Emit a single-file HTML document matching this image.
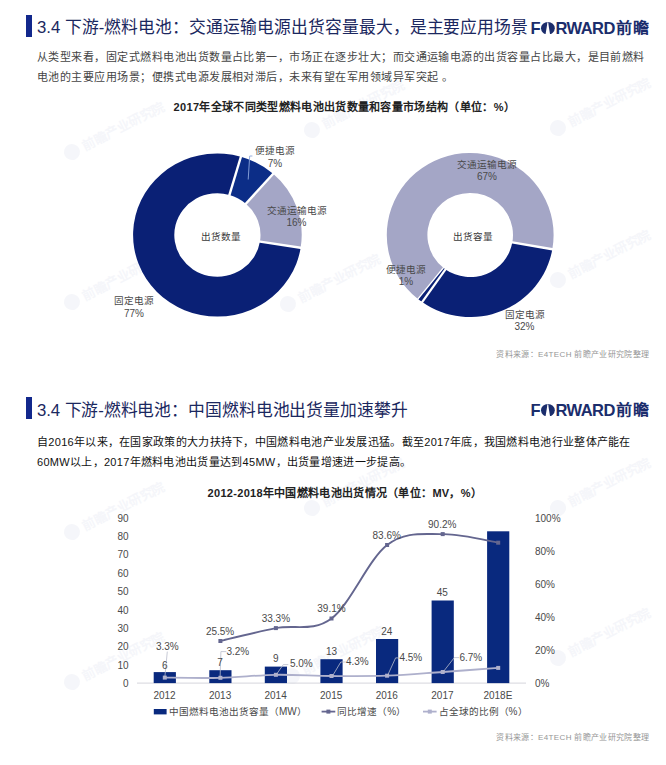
<!DOCTYPE html>
<html lang="zh-CN">
<head>
<meta charset="utf-8">
<title>3.4 下游-燃料电池</title>
<style>
html,body{margin:0;padding:0;background:#fff;}
body{width:666px;height:765px;position:relative;overflow:hidden;font-family:"Liberation Sans",sans-serif;color:#333;}
.abs{position:absolute;white-space:nowrap;}
.vbar{position:absolute;left:26.3px;width:5.8px;background:#12288c;}
.h1{position:absolute;left:37px;font-size:16.8px;line-height:22px;color:#1b2860;white-space:nowrap;letter-spacing:0;}
.logo{position:absolute;left:530.6px;font-size:16.5px;line-height:20px;font-weight:bold;color:#1b2d6c;white-space:nowrap;letter-spacing:-0.55px;}
.logo .o{display:inline-block;width:13.8px;height:12.6px;vertical-align:-0.3px;margin:0 0.6px 0 1.0px;position:relative;}
.logo .o svg{position:absolute;left:0;top:0;}
.logo .cn{position:absolute;left:85.6px;top:0;font-size:14.6px;letter-spacing:0;display:inline-block;transform:scaleX(1.1);transform-origin:0 50%;}
.p1{position:absolute;left:37px;font-size:11px;line-height:20px;color:#444;white-space:nowrap;letter-spacing:0.47px;}
.p2{position:absolute;left:37px;font-size:11px;line-height:20px;color:#111;white-space:nowrap;letter-spacing:0.3px;}
.ct{position:absolute;font-size:11px;line-height:14px;font-weight:bold;color:#222;white-space:nowrap;text-align:left;letter-spacing:0.15px;}
.src{position:absolute;right:16.5px;font-size:8px;line-height:12px;color:#969696;white-space:nowrap;letter-spacing:0.35px;}
svg{position:absolute;left:0;top:0;}
svg text{font-family:"Liberation Sans",sans-serif;}
</style>
</head>
<body>

<svg width="666" height="765" viewBox="0 0 666 765">
  <g id="wm" fill="#f5f6fa" font-size="13" font-weight="bold">
  <g transform="translate(72 152) rotate(-27)"><circle cx="0" cy="0" r="8"/><text x="12" y="5">前瞻产业研究院</text></g>
  <g transform="translate(312 130) rotate(-27)"><circle cx="0" cy="0" r="8"/><text x="12" y="5">前瞻产业研究院</text></g>
  <g transform="translate(558 128) rotate(-27)"><circle cx="0" cy="0" r="8"/><text x="12" y="5">前瞻产业研究院</text></g>
  <g transform="translate(72 302) rotate(-27)"><circle cx="0" cy="0" r="8"/><text x="12" y="5">前瞻产业研究院</text></g>
  <g transform="translate(288 304) rotate(-27)"><circle cx="0" cy="0" r="8"/><text x="12" y="5">前瞻产业研究院</text></g>
  <g transform="translate(558 280) rotate(-27)"><circle cx="0" cy="0" r="8"/><text x="12" y="5">前瞻产业研究院</text></g>
  <g transform="translate(72 532) rotate(-27)"><circle cx="0" cy="0" r="8"/><text x="12" y="5">前瞻产业研究院</text></g>
  <g transform="translate(312 508) rotate(-27)"><circle cx="0" cy="0" r="8"/><text x="12" y="5">前瞻产业研究院</text></g>
  <g transform="translate(558 508) rotate(-27)"><circle cx="0" cy="0" r="8"/><text x="12" y="5">前瞻产业研究院</text></g>
  <g transform="translate(72 682) rotate(-27)"><circle cx="0" cy="0" r="8"/><text x="12" y="5">前瞻产业研究院</text></g>
  <g transform="translate(292 676) rotate(-27)"><circle cx="0" cy="0" r="8"/><text x="12" y="5">前瞻产业研究院</text></g>
  <g transform="translate(558 658) rotate(-27)"><circle cx="0" cy="0" r="8"/><text x="12" y="5">前瞻产业研究院</text></g>
  </g>
</svg>

<!-- ===== Section 1 ===== -->
<div class="vbar" style="top:14.7px;height:22.8px;"></div>
<div class="h1" style="top:17.3px;letter-spacing:-0.04px;">3.4 下游-燃料电池：交通运输电源出货容量最大，是主要应用场景</div>
<div class="logo" style="top:18px;">F<span class="o"><svg width="13.8" height="12.6" viewBox="0 0 13.8 12.6"><ellipse cx="6.9" cy="6.3" rx="6.9" ry="6.3" fill="#1b2d6c"/><path d="M6.3 0.6 Q6.8 0.1 7.3 0.6 L7.5 2.4 L7.9 5.2 L9.1 12.6 L4.5 12.6 L5.7 5.2 L6.1 2.4 Z" fill="#fff"/></svg></span>RWARD<span class="cn">前瞻</span></div>

<div class="p1" style="top:47px;">从类型来看，固定式燃料电池出货数量占比第一，市场正在逐步壮大；而交通运输电源的出货容量占比最大，是目前燃料<br>电池的主要应用场景；便携式电源发展相对滞后，未来有望在军用领域异军突起 。</div>

<div class="ct" style="left:173.6px;top:100px;letter-spacing:0.32px;">2017年全球不同类型燃料电池出货数量和容量市场结构（单位：%）</div>

<div class="src" style="top:349px;">资料来源：E4TECH 前瞻产业研究院整理</div>

<!-- ===== Section 2 ===== -->
<div class="vbar" style="top:396.8px;height:22.7px;"></div>
<div class="h1" style="top:399.5px;letter-spacing:-0.12px;">3.4 下游-燃料电池：中国燃料电池出货量加速攀升</div>
<div class="logo" style="top:400px;">F<span class="o"><svg width="13.8" height="12.6" viewBox="0 0 13.8 12.6"><ellipse cx="6.9" cy="6.3" rx="6.9" ry="6.3" fill="#1b2d6c"/><path d="M6.3 0.6 Q6.8 0.1 7.3 0.6 L7.5 2.4 L7.9 5.2 L9.1 12.6 L4.5 12.6 L5.7 5.2 L6.1 2.4 Z" fill="#fff"/></svg></span>RWARD<span class="cn">前瞻</span></div>

<div class="p2" style="top:431.6px;">自2016年以来，在国家政策的大力扶持下，中国燃料电池产业发展迅猛。截至2017年底，我国燃料电池行业整体产能在<br>60MW以上，2017年燃料电池出货量达到45MW，出货量增速进一步提高。</div>

<div class="ct" style="left:207.6px;top:486.3px;letter-spacing:0.3px;">2012-2018年中国燃料电池出货情况（单位：MV，%）</div>

<div class="src" style="top:732px;">资料来源：E4TECH 前瞻产业研究院整理</div>

<!-- ===== Charts ===== -->
<svg width="666" height="765" viewBox="0 0 666 765">
    <g id="donuts">
  <g transform="translate(217.4 235.0) scale(1 0.968)">
    <path d="M83.26 13.19 A84.3 84.3 0 1 1 23.52 -80.95 L12.02 -41.39 A43.1 43.1 0 1 0 42.57 6.74 Z" fill="#0a2075"/>
    <path d="M23.52 -80.95 A84.3 84.3 0 0 1 55.75 -63.23 L28.50 -32.33 A43.1 43.1 0 0 0 12.02 -41.39 Z" fill="#0c2d87"/>
    <path d="M55.75 -63.23 A84.3 84.3 0 0 1 83.26 13.19 L42.57 6.74 A43.1 43.1 0 0 0 28.50 -32.33 Z" fill="#a4a6c6"/>
    <line x1="41.09" y1="6.51" x2="84.74" y2="13.42" stroke="#fff" stroke-width="2.4"/>
    <line x1="11.61" y1="-39.95" x2="23.94" y2="-82.39" stroke="#fff" stroke-width="2.4"/>
    <line x1="27.51" y1="-31.20" x2="56.74" y2="-64.36" stroke="#fff" stroke-width="2.4"/>
  </g>
  <g transform="translate(470.2 235.0) scale(1 0.984)">
    <path d="M82.13 14.48 A83.4 83.4 0 0 1 -48.07 68.15 L-24.67 34.97 A42.8 42.8 0 0 0 42.15 7.43 Z" fill="#0a2075"/>
    <path d="M-48.07 68.15 A83.4 83.4 0 0 1 -52.26 65.00 L-26.82 33.36 A42.8 42.8 0 0 0 -24.67 34.97 Z" fill="#0a2075"/>
    <path d="M-52.26 65.00 A83.4 83.4 0 1 1 82.13 14.48 L42.15 7.43 A42.8 42.8 0 1 0 -26.82 33.36 Z" fill="#a4a6c6"/>
    <line x1="40.67" y1="7.17" x2="83.61" y2="14.74" stroke="#fff" stroke-width="2.4"/>
    <line x1="-23.81" y1="33.75" x2="-48.94" y2="69.38" stroke="#fff" stroke-width="2.2"/>
    <line x1="-25.88" y1="32.19" x2="-53.20" y2="66.17" stroke="#fff" stroke-width="1.4"/>
  </g>
  <polyline points="252.4,156 249.7,156 248.2,179.5" fill="none" stroke="#8fa8dc" stroke-width="0.9"/>
  <g font-size="9.6" fill="#4a4a4a" text-anchor="middle">
    <text x="275" y="154">便捷电源</text><text x="275" y="166.5" font-size="10">7%</text>
    <text x="296.5" y="213.5">交通运输电源</text><text x="296.5" y="225.5" font-size="10">16%</text>
    <text x="134" y="304">固定电源</text><text x="134" y="317" font-size="10">77%</text>
    <text x="220.5" y="240" fill="#3a3a3a">出货数量</text>
    <text x="487" y="167.5">交通运输电源</text><text x="487" y="180" font-size="10">67%</text>
    <text x="405.5" y="272.5">便捷电源</text><text x="406" y="284.5" font-size="10">1%</text>
    <text x="525" y="317.5">固定电源</text><text x="524.5" y="329.5" font-size="10">32%</text>
    <text x="473" y="240" fill="#3a3a3a">出货容量</text>
  </g>
  </g>
  <g id="barchart">
  <line x1="137" y1="683.1" x2="526" y2="683.1" stroke="#d6d6dc" stroke-width="1"/>
  <rect x="153.7" y="672.1" width="22.2" height="11.0" fill="#09297e"/>
  <rect x="209.3" y="670.2" width="22.2" height="12.9" fill="#09297e"/>
  <rect x="264.8" y="666.6" width="22.2" height="16.5" fill="#09297e"/>
  <rect x="320.4" y="659.2" width="22.2" height="23.9" fill="#09297e"/>
  <rect x="376.0" y="639.0" width="22.2" height="44.1" fill="#09297e"/>
  <rect x="431.6" y="600.5" width="22.2" height="82.6" fill="#09297e"/>
  <rect x="487.1" y="531.3" width="22.2" height="151.8" fill="#09297e"/>
  <path d="M164.8 677.6 C174.1 677.7 201.8 678.3 220.4 677.8 C238.9 677.3 257.4 675.1 275.9 674.8 C294.5 674.5 313.0 675.9 331.5 676.0 C350.0 676.1 368.6 676.3 387.1 675.7 C405.6 675.0 424.1 673.3 442.7 672.0 C461.2 670.7 489.0 668.6 498.2 667.9" fill="none" stroke="#aeb0cc" stroke-width="1.8"/>
  <rect x="162.8" y="675.6" width="4" height="4" fill="#aeb0cc"/>
  <rect x="218.4" y="675.8" width="4" height="4" fill="#aeb0cc"/>
  <rect x="273.9" y="672.8" width="4" height="4" fill="#aeb0cc"/>
  <rect x="329.5" y="674.0" width="4" height="4" fill="#aeb0cc"/>
  <rect x="385.1" y="673.7" width="4" height="4" fill="#aeb0cc"/>
  <rect x="440.7" y="670.0" width="4" height="4" fill="#aeb0cc"/>
  <rect x="496.2" y="665.9" width="4" height="4" fill="#aeb0cc"/>
  <path d="M220.4 641.0 C229.6 638.8 257.4 631.8 275.9 628.1 C294.5 624.3 313.0 632.4 331.5 618.5 C350.0 604.7 368.6 559.1 387.1 545.0 C405.6 530.9 424.1 534.5 442.7 534.1 C461.2 533.7 489.0 541.2 498.2 542.7" fill="none" stroke="#64668f" stroke-width="1.9"/>
  <rect x="218.4" y="639.0" width="4" height="4" fill="#64668f"/>
  <rect x="273.9" y="626.1" width="4" height="4" fill="#64668f"/>
  <rect x="329.5" y="616.5" width="4" height="4" fill="#64668f"/>
  <rect x="385.1" y="543.0" width="4" height="4" fill="#64668f"/>
  <rect x="440.7" y="532.1" width="4" height="4" fill="#64668f"/>
  <rect x="496.2" y="540.7" width="4" height="4" fill="#64668f"/>
  <g fill="none" stroke="#b9bccb" stroke-width="0.8"><polyline points="167.3,651.6 164.8,677.6"/><polyline points="226.3,651.6 220.9,651.6 220.1,677.6"/><polyline points="288.3,664.6 283.3,664.6 276.3,674.6"/><polyline points="345.7,662.0 340.8,662.0 332.7,675.6"/><polyline points="399.6,657.9 395.6,657.9 387.5,675.6"/><polyline points="459.2,657.6 454.3,657.6 443.0,672.1"/></g>
  <g font-size="10" fill="#4a4a4a">
  <text x="128.5" y="686.9" text-anchor="end">0</text>
  <text x="128.5" y="668.5" text-anchor="end">10</text>
  <text x="128.5" y="650.2" text-anchor="end">20</text>
  <text x="128.5" y="631.8" text-anchor="end">30</text>
  <text x="128.5" y="613.5" text-anchor="end">40</text>
  <text x="128.5" y="595.1" text-anchor="end">50</text>
  <text x="128.5" y="576.7" text-anchor="end">60</text>
  <text x="128.5" y="558.4" text-anchor="end">70</text>
  <text x="128.5" y="540.0" text-anchor="end">80</text>
  <text x="128.5" y="521.7" text-anchor="end">90</text>
  <text x="535" y="686.9">0%</text>
  <text x="535" y="653.9">20%</text>
  <text x="535" y="620.8">40%</text>
  <text x="535" y="587.8">60%</text>
  <text x="535" y="554.7">80%</text>
  <text x="535" y="521.7">100%</text>
  <text x="164.5" y="698.6" text-anchor="middle">2012</text>
  <text x="220.1" y="698.6" text-anchor="middle">2013</text>
  <text x="275.6" y="698.6" text-anchor="middle">2014</text>
  <text x="331.2" y="698.6" text-anchor="middle">2015</text>
  <text x="386.8" y="698.6" text-anchor="middle">2016</text>
  <text x="442.4" y="698.6" text-anchor="middle">2017</text>
  <text x="497.9" y="698.6" text-anchor="middle">2018E</text>
  <text x="167.3" y="650.4" text-anchor="middle">3.3%</text>
  <text x="164.8" y="668.8" text-anchor="middle">6</text>
  <text x="220.1" y="635.0" text-anchor="middle">25.5%</text>
  <text x="237.8" y="655.0" text-anchor="middle">3.2%</text>
  <text x="220.1" y="666.0" text-anchor="middle">7</text>
  <text x="275.8" y="662.4" text-anchor="middle">9</text>
  <text x="301.3" y="667.4" text-anchor="middle">5.0%</text>
  <text x="275.9" y="622.4" text-anchor="middle">33.3%</text>
  <text x="331.5" y="612.2" text-anchor="middle">39.1%</text>
  <text x="331.5" y="654.8" text-anchor="middle">13</text>
  <text x="357.3" y="665.4" text-anchor="middle">4.3%</text>
  <text x="386.7" y="539.4" text-anchor="middle">83.6%</text>
  <text x="386.7" y="635.0" text-anchor="middle">24</text>
  <text x="410.8" y="661.4" text-anchor="middle">4.5%</text>
  <text x="442.2" y="528.4" text-anchor="middle">90.2%</text>
  <text x="442.2" y="596.4" text-anchor="middle">45</text>
  <text x="470.8" y="661.0" text-anchor="middle">6.7%</text>
  </g>
  <rect x="153.8" y="709.0" width="12.8" height="5.4" fill="#09297e"/>
  <line x1="321.6" y1="711.6" x2="335.3" y2="711.6" stroke="#64668f" stroke-width="1.8"/><rect x="326.4" y="709.6" width="4" height="4" fill="#64668f"/>
  <line x1="423" y1="711.6" x2="436.6" y2="711.6" stroke="#aeb0cc" stroke-width="1.8"/><rect x="427.8" y="709.6" width="4" height="4" fill="#aeb0cc"/>
  <g font-size="9.6" fill="#4a4a4a"><text x="169" y="715.1">中国燃料电池出货容量（<tspan font-size="10">MW</tspan>）</text><text x="337.3" y="715.1">同比增速（<tspan font-size="10">%</tspan>）</text><text x="438.6" y="715.1">占全球的比例（<tspan font-size="10">%</tspan>）</text></g>
  </g>
</svg>

</body>
</html>
